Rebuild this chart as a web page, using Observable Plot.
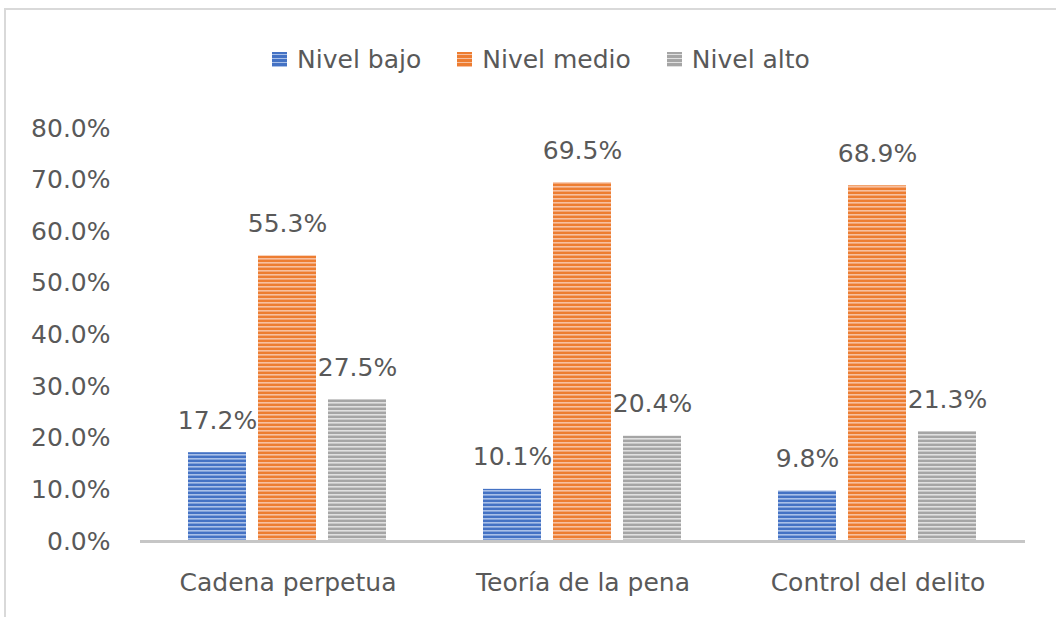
<!DOCTYPE html>
<html>
<head>
<meta charset="utf-8">
<script src="https://cdn.jsdelivr.net/npm/d3@7"></script>
<script src="https://cdn.jsdelivr.net/npm/@observablehq/plot@0.6"></script>
<style>
  body { margin: 0; background: #fff; width: 1056px; height: 617px; overflow: hidden; position: relative; font-family: "DejaVu Sans", sans-serif; }
  #frame { position: absolute; left: 4px; top: 8px; width: 1100px; height: 700px; border-left: 2px solid #d9d9d9; border-top: 2px solid #d9d9d9; }
  #legend { position: absolute; left: 0; top: 45px; width: 1082px; display: flex; justify-content: center; align-items: center; font-size: 25px; color: #595959; }
  #legend .item { display: flex; align-items: center; margin: 0 18px; }
  #legend .sw { width: 15px; height: 15px; margin-right: 10px; }
  #chart { position: absolute; left: 0; top: 100px; }
</style>
</head>
<body>
<div id="frame"></div>
<div id="legend"></div>
<div id="chart"></div>
<script>
const categories = ["Cadena perpetua", "Teoría de la pena", "Control del delito"];
const series = ["Nivel bajo", "Nivel medio", "Nivel alto"];
const bajo = [17.2, 10.1, 9.8];
const medio = [55.3, 69.5, 68.9];
const alto = [27.5, 20.4, 21.3];
const yTicks = [0, 10, 20, 30, 40, 50, 60, 70, 80];

const baseColors = ["#4472c4", "#ed7d31", "#a5a5a5"];
const lightColors = ["#a9c0e8", "#f7c0a0", "#e0e0e0"];
const patternIds = ["pat0", "pat1", "pat2"];

const values = [bajo, medio, alto];
const data = [];
categories.forEach((c, i) => {
  series.forEach((s, j) => {
    data.push({ category: c, series: s, value: values[j][i] / 100 });
  });
});

const textColor = "#595959";
const fs = 25;

const plot = Plot.plot({
  width: 1056,
  height: 517,
  marginLeft: 140,
  marginRight: 31,
  marginTop: 28,
  marginBottom: 76,
  style: { fontFamily: "'DejaVu Sans', sans-serif", color: textColor, background: "transparent", overflow: "visible" },
  fx: { domain: categories, padding: 0 },
  x: { domain: series, paddingInner: 0.169, paddingOuter: 0.662, axis: null },
  y: { domain: [0, 0.8] },
  color: { type: "ordinal", domain: series, range: patternIds.map(id => `url(#${id})`) },
  marks: [
    Plot.axisY({ ticks: yTicks.map(t => t / 100), tickFormat: d3.format(".1%"), tickSize: 0, tickPadding: 30, fontSize: fs, label: null, fill: textColor }),
    Plot.axisFx({ anchor: "bottom", tickSize: 0, tickPadding: 32, fontSize: fs, label: null, fill: textColor }),
    Plot.barY(data, { fx: "category", x: "series", y: "value", fill: "series" }),
    Plot.text(data, { fx: "category", x: "series", y: "value", text: d => d3.format(".1%")(d.value), dy: -32, fontSize: fs, fill: textColor, lineAnchor: "middle" }),
    Plot.ruleY([0], { stroke: "#c6c6c6", strokeWidth: 3 })
  ]
});

// Add stripe patterns
const ns = "http://www.w3.org/2000/svg";
const defs = document.createElementNS(ns, "defs");
patternIds.forEach((id, i) => {
  const p = document.createElementNS(ns, "pattern");
  p.setAttribute("id", id);
  p.setAttribute("patternUnits", "userSpaceOnUse");
  p.setAttribute("width", 8);
  p.setAttribute("height", 4);
  const r1 = document.createElementNS(ns, "rect");
  r1.setAttribute("width", 8); r1.setAttribute("height", 4); r1.setAttribute("fill", baseColors[i]);
  const r2 = document.createElementNS(ns, "rect");
  r2.setAttribute("y", 2); r2.setAttribute("width", 8); r2.setAttribute("height", 1.6); r2.setAttribute("fill", lightColors[i]);
  p.appendChild(r1); p.appendChild(r2);
  defs.appendChild(p);
});
plot.insertBefore(defs, plot.firstChild);
document.getElementById("chart").appendChild(plot);

// Legend
const legend = document.getElementById("legend");
series.forEach((s, i) => {
  const item = document.createElement("div");
  item.className = "item";
  const sw = document.createElement("div");
  sw.className = "sw";
  sw.style.background = `repeating-linear-gradient(to bottom, ${baseColors[i]} 0px, ${baseColors[i]} 2px, ${lightColors[i]} 2px, ${lightColors[i]} 3.5px, ${baseColors[i]} 3.5px, ${baseColors[i]} 4px)`;
  const t = document.createElement("span");
  t.textContent = s;
  item.appendChild(sw); item.appendChild(t);
  legend.appendChild(item);
});
</script>
</body>
</html>
